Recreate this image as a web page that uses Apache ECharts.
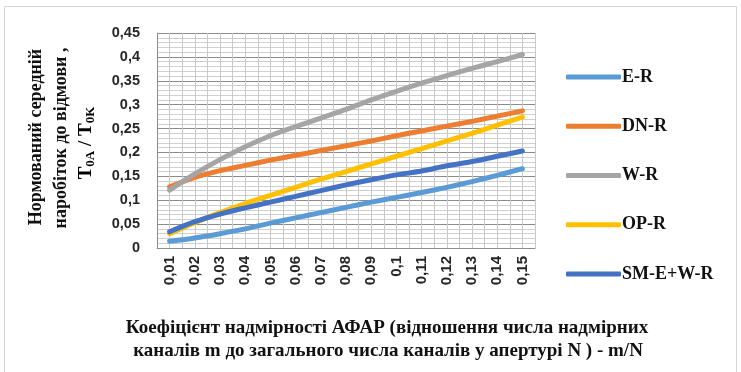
<!DOCTYPE html>
<html>
<head>
<meta charset="utf-8">
<script src="https://cdn.jsdelivr.net/npm/echarts@6/dist/echarts.min.js"></script>
<style>
  html, body { margin: 0; padding: 0; background: #fff; }
  #chart { width: 741px; height: 372px; }
</style>
</head>
<body>
<div id="chart"></div>
<script>
// Redundancy ratio m/N
const categories = ['0,01','0,02','0,03','0,04','0,05','0,06','0,07','0,08','0,09','0,1','0,11','0,12','0,13','0,14','0,15'];

// Normalised mean time to failure T0A / T0K for each reconfiguration scheme
const seriesNames = ['E-R', 'DN-R', 'W-R', 'OP-R', 'SM-E+W-R'];
const valuesER   = [0.014, 0.021, 0.030, 0.040, 0.052, 0.063, 0.074, 0.085, 0.096, 0.106, 0.116, 0.127, 0.139, 0.152, 0.166];
const valuesDNR  = [0.128, 0.148, 0.162, 0.173, 0.184, 0.194, 0.204, 0.214, 0.224, 0.235, 0.245, 0.255, 0.265, 0.276, 0.287];
const valuesWR   = [0.121, 0.155, 0.185, 0.212, 0.235, 0.254, 0.272, 0.290, 0.310, 0.328, 0.345, 0.361, 0.376, 0.390, 0.405];
const valuesOPR  = [0.030, 0.053, 0.074, 0.093, 0.110, 0.127, 0.144, 0.160, 0.176, 0.192, 0.208, 0.224, 0.240, 0.257, 0.274];
const valuesSMEW = [0.034, 0.055, 0.071, 0.084, 0.096, 0.108, 0.120, 0.132, 0.143, 0.153, 0.161, 0.172, 0.181, 0.192, 0.203];

const yTickLabels = ['0','0,05','0,1','0,15','0,2','0,25','0,3','0,35','0,4','0,45'];

const colors = ['#5B9BD5', '#ED7D31', '#A5A5A5', '#FFC000', '#4472C4'];
const allValues = [valuesER, valuesDNR, valuesWR, valuesOPR, valuesSMEW];

const serif = '"Liberation Serif", "DejaVu Serif", serif';
const sans = '"Liberation Sans", Arial, sans-serif';

const chart = echarts.init(document.getElementById('chart'), null, { renderer: 'canvas' });

const nameRich = {
  a: { fontFamily: serif, fontWeight: 'bold', fontSize: 19, color: '#111', lineHeight: 24 },
  s: { fontFamily: serif, fontWeight: 'bold', fontSize: 13, color: '#111', lineHeight: 24, padding: [10, 0, 0, 0] }
};

chart.setOption({
  animation: false,
  backgroundColor: '#fff',
  color: colors,
  grid: { left: 157, right: 206, top: 33, bottom: 124, containLabel: false },
  legend: {
    orient: 'vertical',
    left: 561,
    top: 63,
    itemWidth: 55,
    itemHeight: 5,
    itemGap: 31.25,
    icon: 'roundRect',
    textStyle: { fontFamily: serif, fontWeight: 'bold', fontSize: 18, lineHeight: 18, color: '#111', padding: [0, 0, 0, -4] },
    data: seriesNames
  },
  xAxis: [
    {
      type: 'category',
      data: categories,
      boundaryGap: true,
      axisLine: { show: true, lineStyle: { color: '#8c8c8c', width: 1 } },
      axisTick: { show: false },
      splitLine: { show: true, interval: 0, lineStyle: { color: '#8c8c8c', width: 1 } },
      axisLabel: {
        interval: 0,
        rotate: 90,
        margin: 8,
        fontFamily: sans,
        fontWeight: 'bold',
        fontSize: 15,
        color: '#262626'
      }
    },
    {
      // light lines through the category centres
      type: 'value',
      min: 0,
      max: 15,
      interval: 0.5,
      show: true,
      position: 'top',
      axisLine: { show: false },
      axisTick: { show: false },
      axisLabel: { show: false },
      splitLine: { show: true, lineStyle: { color: '#c8c8c8', width: 1 } },
      z: 0
    }
  ],
  yAxis: {
    type: 'value',
    min: 0,
    max: 0.45,
    interval: 0.05,
    axisLine: { show: true, lineStyle: { color: '#8c8c8c' } },
    axisTick: { show: false },
    axisLabel: {
      margin: 17,
      fontFamily: sans,
      fontWeight: 'bold',
      fontSize: 14.5,
      color: '#262626',
      formatter: (v) => yTickLabels[Math.round(v / 0.05)]
    },
    splitLine: { show: true, lineStyle: { color: '#8c8c8c', width: 1 } },
    minorTick: { show: false, splitNumber: 5 },
    minorSplitLine: { show: true, lineStyle: { color: '#cfcfcf', width: 1 } }
  },
  series: seriesNames.map((name, i) => ({
    name: name,
    type: 'line',
    xAxisIndex: 0,
    data: allValues[i],
    smooth: 0.3,
    showSymbol: false,
    symbol: 'none',
    lineStyle: { width: 5, color: colors[i], cap: 'round', join: 'round' },
    itemStyle: { color: colors[i] },
    z: 3 + i
  })),
  graphic: [
    {
      type: 'rect',
      shape: { x: 4.5, y: 6.5, width: 732, height: 380 },
      style: { fill: 'none', stroke: '#d4d4d4', lineWidth: 1 },
      silent: true,
      z: -10
    },
    {
      type: 'text',
      x: 36, y: 137, rotation: Math.PI / 2,
      style: { text: 'Нормований середній', font: 'bold 18px ' + serif, fill: '#111', align: 'center', verticalAlign: 'middle' }
    },
    {
      type: 'text',
      x: 61, y: 138, rotation: Math.PI / 2,
      style: { text: 'наробіток до відмови ,', font: 'bold 18px ' + serif, fill: '#111', align: 'center', verticalAlign: 'middle' }
    },
    {
      type: 'text',
      x: 86, y: 143, rotation: Math.PI / 2,
      style: {
        text: '{a|T}{s|0A}{a| / T}{s|0K}',
        rich: nameRich,
        align: 'center',
        verticalAlign: 'middle'
      }
    },
    {
      type: 'text',
      x: 387, y: 328,
      style: { text: 'Коефіцієнт надмірності АФАР (відношення числа надмірних', font: 'bold 19px ' + serif, fill: '#111', align: 'center', verticalAlign: 'middle' }
    },
    {
      type: 'text',
      x: 388, y: 351,
      style: { text: 'каналів m до загального числа каналів у апертурі N ) - m/N', font: 'bold 19px ' + serif, fill: '#111', align: 'center', verticalAlign: 'middle' }
    }
  ]
});
</script>
</body>
</html>
